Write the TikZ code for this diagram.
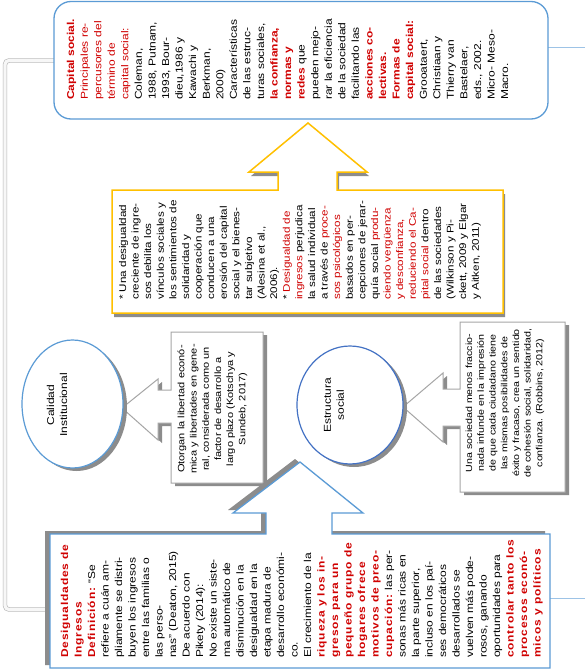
\documentclass[tikz,border=0pt]{standalone}
\usepackage{fontspec}
\setmainfont{Liberation Sans}[FakeStretch=1.2]
\newfontfamily\spacedfont{Liberation Sans}[FakeStretch=1.2,LetterSpace=8]
\definecolor{cred}{HTML}{D00000}
\definecolor{cblue}{HTML}{5B9BD5}
\definecolor{cdblue}{HTML}{4472C4}
\definecolor{cyel}{HTML}{FFC000}
\definecolor{cgray}{HTML}{A6A6A6}
\definecolor{cshadow}{HTML}{8C8C8C}
\definecolor{cconn}{HTML}{B4B4B4}
\definecolor{cconnr}{HTML}{9DC3E6}
\newcommand\rb[1]{{\bfseries\color{cred}#1}}
\newcommand\rn[1]{{\color{cred}#1}}
\newcommand\rsb[1]{{\spacedfont\bfseries\color{cred}#1}}
\def\yelpath{(112,190) -- (278,190) -- (278,172) -- (249,172) -- (308,123) -- (367,172) -- (337,172) -- (337,190) -- (503,190) -- (503,313) -- (112,313) -- cycle}
\def\otopath{(171,332) -- (263,332) -- (263,483) -- (171,483) -- (171,423) -- (158,423) -- (158,440) -- (122,408) -- (158,379) -- (158,390) -- (171,390) -- cycle}
\def\socpath{(460,322) -- (565,322) -- (565,492) -- (460,492) -- (460,426) -- (443,426) -- (443,442) -- (403,407) -- (443,373) -- (443,389) -- (460,389) -- cycle}
\def\despath{(50,534) -- (266,534) -- (266,513) -- (233,513) -- (300,462) -- (363,513) -- (332,513) -- (332,534) -- (550,534) -- (550,668) -- (50,668) -- cycle}
\begin{document}
\begin{tikzpicture}[x=1pt,y=-1pt,
  vtxt/.style={rotate=90, inner sep=0pt, text=black},
  leftblock/.style={vtxt, anchor=north west, align=left},
  midblock/.style={vtxt, anchor=center, align=center},
  shadowfill/.style={fill=cshadow, draw=none},
  conn/.style={draw=cconn, line width=0.6pt, double=gray!6, double distance=3.2pt, rounded corners=4pt},
  connr/.style={draw=cconnr, line width=0.8pt},
  yelbox/.style={draw=cyel, line width=1.5pt, fill=white, line join=miter},
  graybox/.style={draw=cgray, line width=1pt, fill=white},
  bluebox/.style={draw=cblue, line width=1.3pt, fill=white},
]
\useasboundingbox (0,0) rectangle (585,671);
\fill[white] (0,0) rectangle (585,671);

% connectors
\coordinate (capL) at (54,60.5);
\coordinate (rail) at (5,335);
\coordinate (desL) at (46,609.5);
\draw[conn] (capL) -| (rail) |- (desL);
\coordinate (capR) at (548,47);
\coordinate (edgeA) at (586,47);
\coordinate (desR) at (550,598);
\coordinate (edgeB) at (586,598);
\draw[connr] (capR) -- (edgeA);
\draw[connr] (desR) -- (edgeB);

% top rounded box
\draw[bluebox, rounded corners=17pt] (54,1.5) rectangle (548,119);

% yellow callout
\fill[shadowfill, shift={(2,4)}] \yelpath;
\draw[yelbox] \yelpath;

% gray callouts
\fill[shadowfill, shift={(4,3)}] \otopath;
\draw[graybox] \otopath;
\fill[shadowfill, shift={(4,3)}] \socpath;
\draw[graybox] \socpath;

% ellipses
\fill[shadowfill] (76.5,407) ellipse [x radius=50.5pt, y radius=64pt];
\draw[draw=cblue, line width=1.2pt, fill=white] (72.5,404) ellipse [x radius=50.5pt, y radius=64pt];
\fill[shadowfill] (354,408) ellipse [x radius=53pt, y radius=59pt];
\draw[draw=cdblue, line width=1.2pt, fill=white] (350,405) ellipse [x radius=53pt, y radius=59pt];

% bottom blue callout
\fill[shadowfill, shift={(-5,-3)}] \despath;
\draw[bluebox] \despath;

% texts
\node[midblock, font=\fontsize{10}{13}\selectfont] (calid) at (57,405) {Calidad\\Institucional};
\node[midblock, font=\fontsize{10}{13}\selectfont] (estr) at (334,405) {Estructura\\social};

\node[midblock, font=\fontsize{9.2}{12.2}\selectfont] (otortxt) at (212.5,409) {Otorgan la libertad econó-\\mica y libertades en gene-\\ral, considerada como un\\factor de desarrollo a\\largo plazo (Kotschya y\\Sundeb, 2017)};

\node[midblock, font=\fontsize{8.9}{11.7}\selectfont] (socitxt) at (505,403) {Una sociedad menos fraccio-\\nada infunde en la impresión\\de que cada ciudadano tiene\\las mismas posibilidades de\\éxito y fracaso, crea un sentido\\de cohesión social, solidaridad,\\confianza. (Robbins, 2012)};

\node[leftblock, font=\fontsize{10}{13.56}\selectfont] (captxt) at (64.5,100) {\strut\rb{Capital social.}\\
\rn{Principales re-}\\
\rn{percusores del}\\
\rn{término de}\\
\rn{capital social:}\\
Coleman,\\
1988, Putnam,\\
1993, Bour-\\
dieu,1986 y\\
Kawachi y\\
Berkman,\\
2000)\\
Características\\
de las estruc-\\
turas sociales,\\
\rb{la confianza,}\\
\rb{normas y}\\
\rb{redes} que\\
pueden mejo-\\
rar la eficiencia\\
de la sociedad\\
facilitando las\\
\rb{acciones co-}\\
\rb{lectivas.}\\
\rb{Formas de}\\
\rb{capital social:}\\
Grooataert,\\
Christiaan y\\
Thierry van\\
Bastelaer,\\
eds., 2002.\\
Micro- Meso-\\
Macro.};

\node[leftblock, font=\fontsize{9.7}{12.6}\selectfont] (yeltxt) at (117,300) {\strut* Una desigualdad\\
creciente de ingre-\\
sos debilita los\\
vínculos sociales y\\
los sentimientos de\\
solidaridad y\\
cooperación que\\
conducen a una\\
erosión del capital\\
social y el bienes-\\
tar subjetivo\\
(Alesina et al.,\\
2006).\\
* \rn{Desigualdad de}\\
\rn{ingresos} perjudica\\
la salud individual\\
a través de \rn{proce-}\\
\rn{sos psicológicos}\\
basados en per-\\
cepciones de jerar-\\
quía social \rn{produ-}\\
\rn{ciendo vergüenza}\\
\rn{y desconfianza,}\\
\rn{reduciendo el Ca-}\\
\rn{pital social} dentro\\
de las sociedades\\
(Wilkinson y Pi-\\
ckett, 2009 y Elgar\\
y Aitken, 2011)};

\node[leftblock, font=\fontsize{10}{13.5}\selectfont] (destxt) at (58.5,658) {\strut\rsb{Desigualdades de}\\
\rsb{Ingresos}\\
\rsb{Definición:} “Se\\
refiere a cuán am-\\
pliamente se distri-\\
buyen los ingresos\\
entre las familias o\\
las perso-\\
nas” (Deaton, 2015)\\
De acuerdo con\\
Pikety (2014):\\
No existe un siste-\\
ma automático de\\
disminución en la\\
desigualdad en la\\
etapa madura de\\
desarrollo económi-\\
co.\\
El crecimiento de la\\
\rsb{riqueza y los in-}\\
\rsb{gresos para un}\\
\rsb{pequeño grupo de}\\
\rsb{hogares ofrece}\\
\rsb{motivos de preo-}\\
\rsb{cupación:} las per-\\
sonas más ricas en\\
la parte superior,\\
incluso en los paí-\\
ses democráticos\\
desarrollados se\\
vuelven más pode-\\
rosos, ganando\\
oportunidades para\\
\rsb{controlar tanto los}\\
\rsb{procesos econó-}\\
\rsb{micos y políticos}};
\end{tikzpicture}
\end{document}
